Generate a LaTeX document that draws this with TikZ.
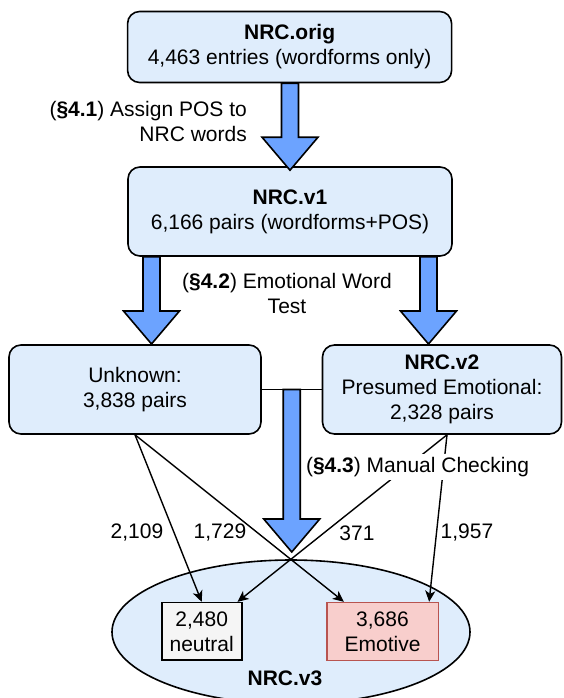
\documentclass[tikz,border=0pt]{standalone}
\usepackage{fontspec}
\setmainfont{Liberation Sans}
\usetikzlibrary{arrows.meta,calc,shapes.geometric}
\definecolor{boxblue}{HTML}{DFEDFC}
\definecolor{arrowblue}{HTML}{6CA3FF}
\definecolor{neutralfill}{HTML}{F5F5F5}
\definecolor{emofill}{HTML}{F8CECC}
\definecolor{emostroke}{HTML}{B85450}
\newcommand{\blockarr}[2]{%
  \draw[blockarrow] let \p1=(#1), \p2=(#2) in
    (\x2-8.5pt,\y1) -- (\x2-8.5pt,\y2+33pt) -- (\x2-28pt,\y2+33pt) -- (\x2,\y2)
    -- (\x2+28pt,\y2+33pt) -- (\x2+8.5pt,\y2+33pt) -- (\x2+8.5pt,\y1) -- cycle;}
\begin{document}
\begin{tikzpicture}[x=1pt,y=-1pt,font=\fontsize{21}{25}\selectfont,
  rbox/.style={draw=black,line width=1.6pt,fill=boxblue,rounded corners=12pt,align=center,inner sep=0pt},
  sbox/.style={draw=black,line width=1.6pt,align=center,inner sep=0pt},
  blockarrow/.style={draw=black,line width=1.6pt,fill=arrowblue,line join=miter},
  edgearrow/.style={draw=black,line width=1.4pt,-{Stealth[length=11pt,width=10pt,inset=3pt]}},
  lbl/.style={align=center,inner sep=0pt}]
\useasboundingbox (0,0) rectangle (563,698);
% ellipse container
\node[ellipse,draw=black,line width=1.6pt,fill=boxblue,minimum width=358pt,minimum height=144pt,inner sep=0pt] (v3) at (291,632) {};
\node[lbl] (v3lbl) at (285,678) {\textbf{NRC.v3}};
% boxes
\node[rbox,minimum width=324pt,minimum height=71pt] (orig) at (289.6,47) {\textbf{NRC.orig}\\4,463 entries (wordforms only)};
\node[rbox,minimum width=324pt,minimum height=89pt] (v1) at (290,211.5) {\textbf{NRC.v1}\\6,166 pairs (wordforms+POS)};
\node[rbox,minimum width=252pt,minimum height=89pt] (unk) at (135,389.5) {Unknown:\\3,838 pairs};
\node[rbox,minimum width=239pt,minimum height=89pt] (v2) at (442,389.5) {\textbf{NRC.v2}\\Presumed Emotional:\\2,328 pairs};
\node[sbox,fill=neutralfill,minimum width=80pt,minimum height=57.5pt] (neu) at (201.7,631.4) {2,480\\neutral};
\node[sbox,draw=emostroke,fill=emofill,minimum width=111.6pt,minimum height=58pt] (emo) at (382.5,631.6) {3,686\\Emotive};
% connector between the two boxes
\draw[line width=1.4pt] (unk.east) -- (v2.west);
% block arrows
\coordinate (tipA) at ($(v1.north)+(0,4)$);
\coordinate (tipL) at (151.5,344);
\coordinate (tipR) at (428.5,344);
\coordinate (cTop) at ($(unk.east)!0.5!(v2.west)$);
\coordinate (tipC) at ($(cTop)+(0,162.5)$);
\blockarr{orig.south}{tipA}
\blockarr{tipL |- v1.south}{tipL}
\blockarr{tipR |- v1.south}{tipR}
\blockarr{cTop}{tipC}
% thin edges
\draw[edgearrow] (unk.south) -- (neu.north);
\draw[edgearrow] (unk.south) -- ([xshift=18pt]emo.north west);
\draw[edgearrow] ([xshift=5pt]v2.south) -- ([xshift=-5pt]neu.north east);
\draw[edgearrow] ([xshift=5pt]v2.south) -- ([xshift=-10pt]emo.north east);
% labels
\node[lbl] (l1) at (137,533) {2,109};
\node[lbl] (l2) at (220,533) {1,729};
\node[lbl] (l3) at (357,533) {371};
\node[lbl] (l4) at (467,533) {1,957};
\node[lbl,fill=white,inner xsep=1pt,inner ysep=3pt] (l43) at (417.5,467) {(\textbf{§4.3}) Manual Checking};
\node[lbl,align=right,anchor=east] (l41) at (247,121) {(\textbf{§4.1}) Assign POS to\\NRC words};
\node[lbl] (l42) at (287,293.5) {(\textbf{§4.2}) Emotional Word\\Test};
\end{tikzpicture}
\end{document}
